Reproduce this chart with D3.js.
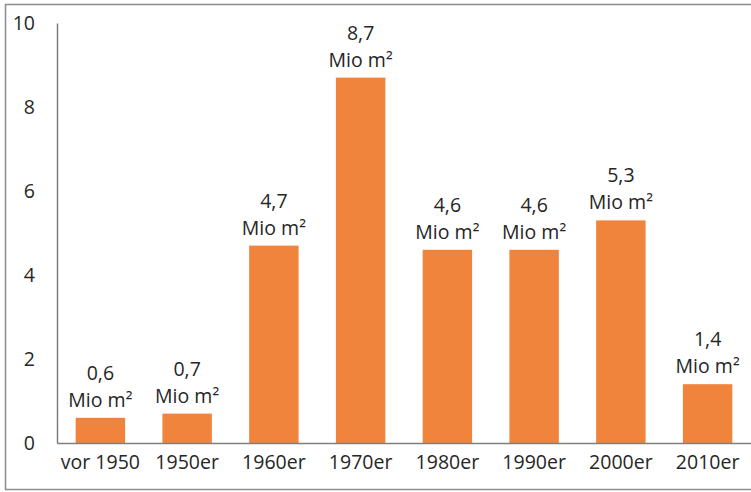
<!DOCTYPE html>
<html>
<head>
<meta charset="utf-8">
<script src="https://cdn.jsdelivr.net/npm/d3@7"></script>
<style>
  html, body { margin: 0; padding: 0; background: #fff; }
  svg { display: block; }
  text { font-family: "Open Sans", Lato, sans-serif; fill: #262626; }
</style>
</head>
<body>
<script>
// Floor area by construction period (million m²)
const categories = ["vor 1950", "1950er", "1960er", "1970er", "1980er", "1990er", "2000er", "2010er"];
const values = [0.6, 0.7, 4.7, 8.7, 4.6, 4.6, 5.3, 1.4];
const valueLabels = ["0,6", "0,7", "4,7", "8,7", "4,6", "4,6", "5,3", "1,4"];
const yTicks = [0, 2, 4, 6, 8, 10];
const unitLabel = "Mio m²";

const W = 751, H = 492;
const FONT = "'Open Sans', Lato, sans-serif";
const FS = 19.5;
const svg = d3.select("body").append("svg").attr("width", W).attr("height", H);

// outer frame
svg.append("rect")
  .attr("x", 5.5).attr("y", 4.5).attr("width", 760).attr("height", 485)
  .attr("fill", "none").attr("stroke", "#8c8c8c").attr("stroke-width", 1.5);

const x = d3.scaleBand().domain(categories).range([57, 751]).paddingInner(0.43).paddingOuter(0.215);
const y = d3.scaleLinear().domain([0, 10]).range([443, 23]);

// bars
svg.selectAll("rect.bar").data(values).enter().append("rect")
  .attr("class", "bar")
  .attr("x", (d, i) => x(categories[i]))
  .attr("y", d => y(d))
  .attr("width", x.bandwidth())
  .attr("height", d => y(0) - y(d))
  .attr("fill", "#F0843C");

// value labels
const lab = svg.selectAll("g.lab").data(values).enter().append("g")
  .attr("transform", (d, i) => `translate(${x(categories[i]) + x.bandwidth() / 2},${y(d)})`);
lab.append("text").attr("y", -11).attr("text-anchor", "middle").attr("font-size", FS).text(unitLabel);
lab.append("text").attr("y", -38).attr("text-anchor", "middle").attr("font-size", FS).text((d, i) => valueLabels[i]);

// y axis
const yAxis = svg.append("g").attr("transform", "translate(57,0)")
  .call(d3.axisLeft(y).tickValues(yTicks).tickSize(0).tickPadding(22).tickFormat(d3.format("d")));
yAxis.select(".domain").attr("stroke", "#7f7f7f").attr("stroke-width", 1.5);
yAxis.selectAll("text").attr("font-size", FS).style("font-family", FONT).attr("fill", "#262626");

// x axis
const xAxis = svg.append("g").attr("transform", "translate(0,443)")
  .call(d3.axisBottom(x).tickSize(0).tickPadding(12));
xAxis.select(".domain").attr("stroke", "#7f7f7f").attr("stroke-width", 1.5);
xAxis.selectAll("text").attr("font-size", FS).style("font-family", FONT).attr("fill", "#262626");
</script>
</body>
</html>
